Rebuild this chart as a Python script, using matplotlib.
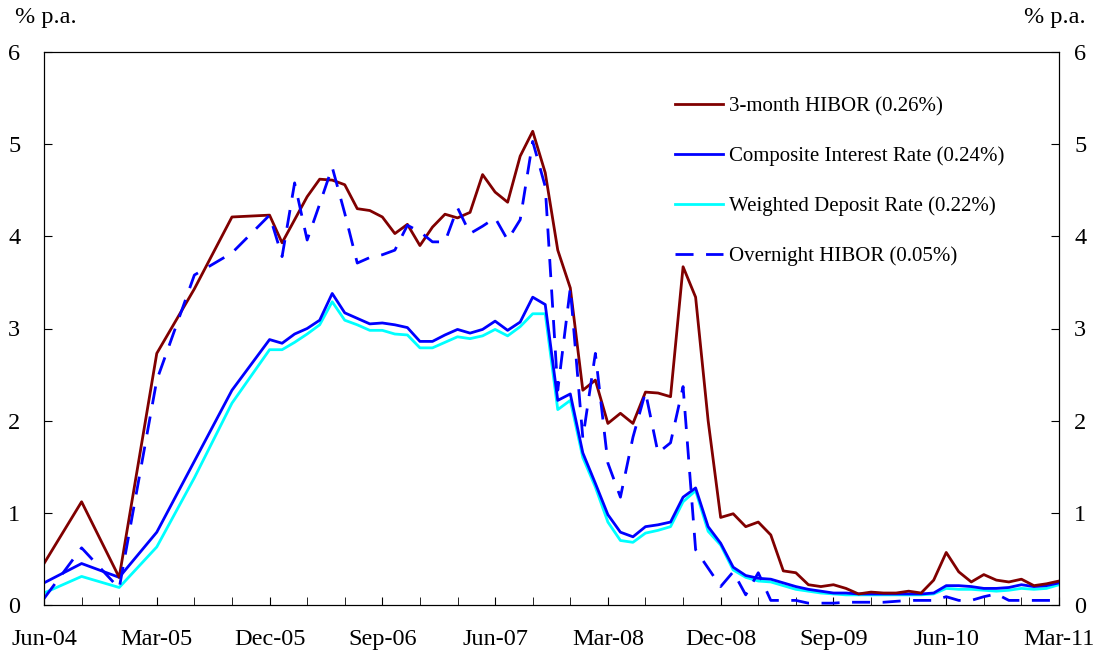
import matplotlib
matplotlib.use('Agg')
import matplotlib.pyplot as plt
import numpy as np
import pandas as pd

plt.rcParams['font.family'] = ['Liberation Serif', 'DejaVu Serif']
plt.rcParams['font.size'] = 17.5

# months from Jun-04 to Mar-11; before Dec-05 the data is quarterly
months = pd.period_range('2004-06', '2011-03', freq='M')
q_idx = [0, 3, 6, 9, 12, 15]          # Jun-04 .. Sep-05
m_start = 18                           # Dec-05 onwards monthly

hibor3m_q = [0.45, 1.12, 0.30, 2.73, 3.43, 4.21]
hibor3m_m = [4.23, 3.93, 4.18, 4.43, 4.62, 4.61, 4.56, 4.30, 4.28, 4.21, 4.03, 4.13,
             3.90, 4.10, 4.24, 4.20, 4.26, 4.67, 4.48, 4.37, 4.87, 5.14, 4.69, 3.85,
             3.44, 2.33, 2.44, 1.97, 2.08, 1.97, 2.31, 2.30, 2.26, 3.67, 3.34, 2.00,
             0.95, 0.99, 0.85, 0.90, 0.76, 0.37, 0.35, 0.22, 0.20, 0.22, 0.18, 0.12,
             0.14, 0.13, 0.13, 0.15, 0.13, 0.27, 0.57, 0.36, 0.25, 0.33, 0.27, 0.25,
             0.28, 0.21, 0.23, 0.26]

composite_q = [0.24, 0.45, 0.30, 0.79, 1.56, 2.33]
composite_m = [2.88, 2.84, 2.94, 3.00, 3.09, 3.38, 3.17, 3.11, 3.05, 3.06, 3.04, 3.01,
               2.86, 2.86, 2.93, 2.99, 2.95, 2.99, 3.08, 2.98, 3.07, 3.34, 3.26, 2.22,
               2.29, 1.65, 1.32, 0.98, 0.79, 0.74, 0.85, 0.87, 0.90, 1.17, 1.27, 0.85,
               0.67, 0.41, 0.32, 0.29, 0.28, 0.24, 0.20, 0.17, 0.15, 0.13, 0.13, 0.12,
               0.12, 0.12, 0.12, 0.12, 0.12, 0.13, 0.21, 0.21, 0.20, 0.18, 0.18, 0.19,
               0.22, 0.20, 0.21, 0.24]

deposit_q = [0.13, 0.31, 0.19, 0.63, 1.38, 2.19]
deposit_m = [2.77, 2.77, 2.85, 2.94, 3.04, 3.29, 3.09, 3.04, 2.98, 2.98, 2.94, 2.93,
             2.79, 2.79, 2.85, 2.91, 2.89, 2.92, 2.99, 2.92, 3.02, 3.16, 3.16, 2.12,
             2.22, 1.60, 1.28, 0.90, 0.70, 0.68, 0.78, 0.81, 0.85, 1.12, 1.24, 0.80,
             0.65, 0.38, 0.30, 0.26, 0.25, 0.21, 0.17, 0.15, 0.13, 0.12, 0.11, 0.11,
             0.11, 0.11, 0.11, 0.11, 0.11, 0.12, 0.18, 0.17, 0.17, 0.16, 0.15, 0.16,
             0.18, 0.17, 0.18, 0.22]

overnight_q = [0.07, 0.62, 0.18, 2.44, 3.58, 3.82]
overnight_m = [4.23, 3.78, 4.58, 3.96, 4.35, 4.75, 4.25, 3.71, 3.77, 3.80, 3.85, 4.12,
               4.05, 3.94, 3.94, 4.31, 4.03, 4.11, 4.20, 3.96, 4.18, 5.03, 4.54, 2.33,
               3.44, 1.81, 2.73, 1.54, 1.17, 1.82, 2.31, 1.65, 1.76, 2.37, 0.60, 0.40,
               0.20, 0.36, 0.11, 0.35, 0.05, 0.05, 0.05, 0.02, 0.02, 0.02, 0.03, 0.03,
               0.03, 0.03, 0.04, 0.05, 0.05, 0.05, 0.09, 0.05, 0.05, 0.09, 0.12, 0.05,
               0.05, 0.05, 0.05, 0.05]

labels = ['3-month HIBOR (0.26%)', 'Composite Interest Rate (0.24%)',
          'Weighted Deposit Rate (0.22%)', 'Overnight HIBOR (0.05%)']

x = np.array(q_idx + list(range(m_start, len(months))))

fig = plt.figure(figsize=(10.98, 6.56), dpi=100)
ax = fig.add_axes([44/1098, 51/656, 1015/1098, 553/656])

l1, = ax.plot(x, hibor3m_q + hibor3m_m, color='#800000', lw=2.0, zorder=4)
l2, = ax.plot(x, composite_q + composite_m, color='#0000FF', lw=2.0, zorder=3)
l3, = ax.plot(x, deposit_q + deposit_m, color='#00FFFF', lw=2.0, zorder=2)
l4, = ax.plot(x, overnight_q + overnight_m, color='#0000FF', lw=2.0, zorder=5,
              dashes=(6.5, 4.5))

ax.set_xlim(0, len(months) - 1)
ax.set_ylim(0, 6)
ax.set_yticks(range(7))
ax.set_xticks(range(0, len(months), 3), minor=True)
ax.set_xticks(range(0, len(months), 9))
ax.set_xticklabels([months[i].strftime('%b-%y') for i in range(0, len(months), 9)])
ax.tick_params(axis='x', which='both', direction='in', length=6, pad=17)
ax.tick_params(axis='y', direction='in', length=6, left=True, right=False, pad=17)

# right-hand scale, same as the left one
ax2 = ax.twinx()
ax2.set_ylim(0, 6)
ax2.set_yticks(range(7))
ax2.tick_params(axis='y', direction='in', length=6, pad=11)

fig.text(15/1098, 1 - 18/656, '% p.a.', ha='left', va='center')
fig.text(1086/1098, 1 - 18/656, '% p.a.', ha='right', va='center')

ax.legend([l1, l2, l3, l4], labels, loc='upper left', bbox_to_anchor=(0.603, 0.953),
          frameon=False, handlelength=2.3, handletextpad=0.3, labelspacing=1.45,
          fontsize=15)

plt.savefig('out.png', dpi=100)
